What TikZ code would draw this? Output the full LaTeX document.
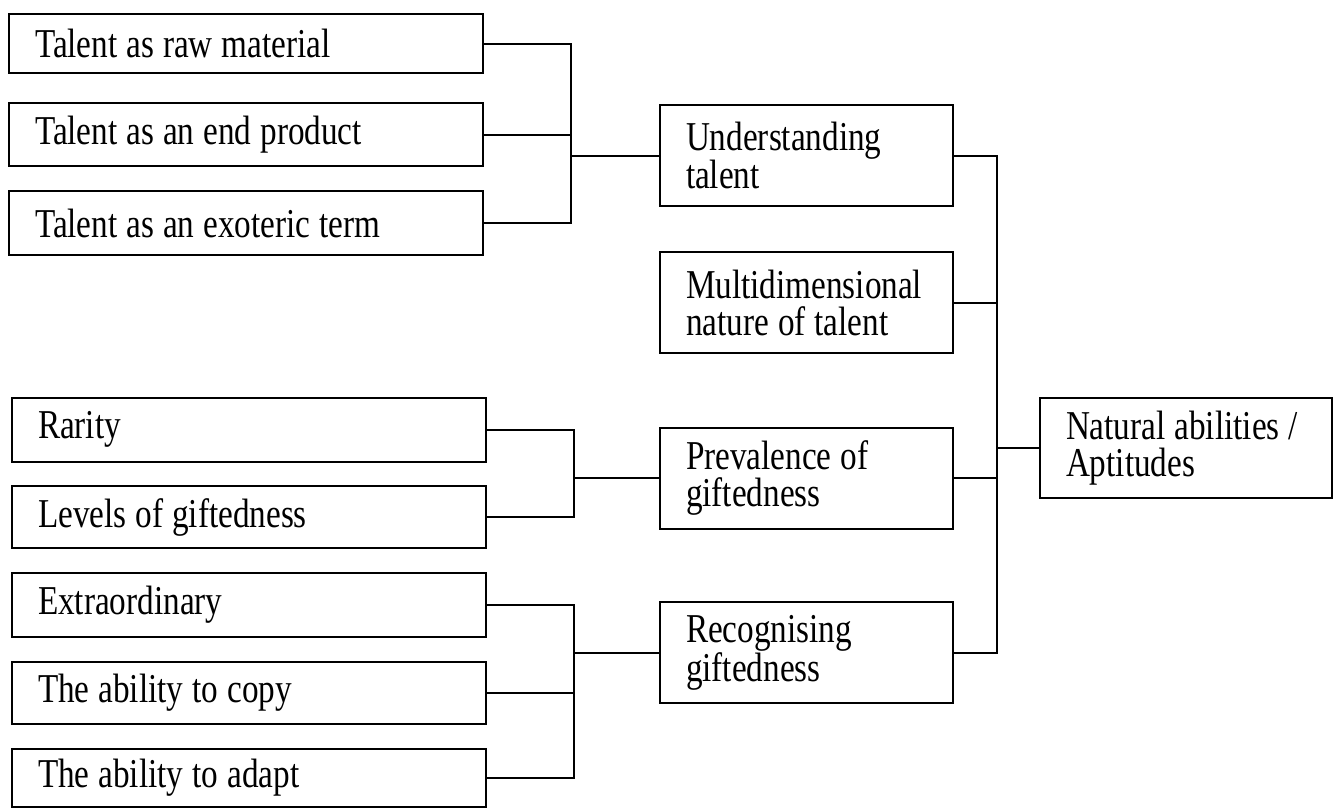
\documentclass[tikz,border=0pt]{standalone}
\usepackage{fontspec}
% narrow, tall Times-style lettering
\setmainfont{Liberation Serif}[FakeStretch=0.81]
\newcommand\labelfont{\fontsize{41}{37}\selectfont}
\newcommand\tightspaces{\spaceskip=9pt plus 2pt minus 1pt\relax}
\begin{document}
\begin{tikzpicture}[x=1pt,y=-1pt,
  box/.style={draw,line width=2pt,rectangle,inner xsep=26pt,inner ysep=0pt,
    align=left,font=\labelfont,execute at begin node=\tightspaces},
  leftbox/.style={box,text width=422pt,minimum height=#1},
  midbox/.style={box,text width=241pt,minimum height=101pt},
  link/.style={line width=2pt}]
\useasboundingbox[fill=white] (0,0) rectangle (1337,809);

% first column: detailed topics
\node[leftbox=59pt] (a1) at (246,43.5) {Talent as raw material};
\node[leftbox=63pt] (a2) at (246,134.5) {Talent as an end product};
\node[leftbox=64pt] (a3) at (246,223) {Talent as an exoteric term};
\node[leftbox=64pt] (b1) at (249,429.5) {Rarity};
\node[leftbox=62pt] (b2) at (249,517) {Levels of giftedness};
\node[leftbox=64pt] (c1) at (249,605) {Extraordinary};
\node[leftbox=62pt] (c2) at (249,693) {The ability to copy};
\node[leftbox=58pt] (c3) at (249,778) {The ability to adapt};

% second column: themes
\node[midbox] (m1) at (806.5,155.5) {Understanding\\talent};
\node[midbox] (m2) at (806.5,302.5) {Multidimensional\\nature of talent};
\node[midbox] (m3) at (806.5,478) {Prevalence of\\giftedness};
\node[midbox] (m4) at (806.5,652.5) {Recognising\\giftedness};

% overall concept
\node[box,text width=240pt,minimum height=100pt] (r) at (1186,448) {Natural abilities /\\Aptitudes};

% bracket columns
\coordinate (j1) at (571,0);
\coordinate (j2) at (574,0);
\coordinate (j4) at (997,0);

\draw[link] (a1.east) -- (a1.east -| j1) -- (a3.east -| j1) -- (a3.east);
\draw[link] (a2.east) -- (a2.east -| j1);
\draw[link] (m1.west -| j1) -- (m1.west);

\draw[link] (b1.east) -- (b1.east -| j2) -- (b2.east -| j2) -- (b2.east);
\draw[link] (m3.west -| j2) -- (m3.west);

\draw[link] (c1.east) -- (c1.east -| j2) -- (c3.east -| j2) -- (c3.east);
\draw[link] (c2.east) -- (c2.east -| j2);
\draw[link] (m4.west -| j2) -- (m4.west);

\draw[link] (m1.east) -- (m1.east -| j4) -- (m4.east -| j4) -- (m4.east);
\draw[link] (m2.east) -- (m2.east -| j4);
\draw[link] (m3.east) -- (m3.east -| j4);
\draw[link] (r.west -| j4) -- (r.west);
\end{tikzpicture}
\end{document}
